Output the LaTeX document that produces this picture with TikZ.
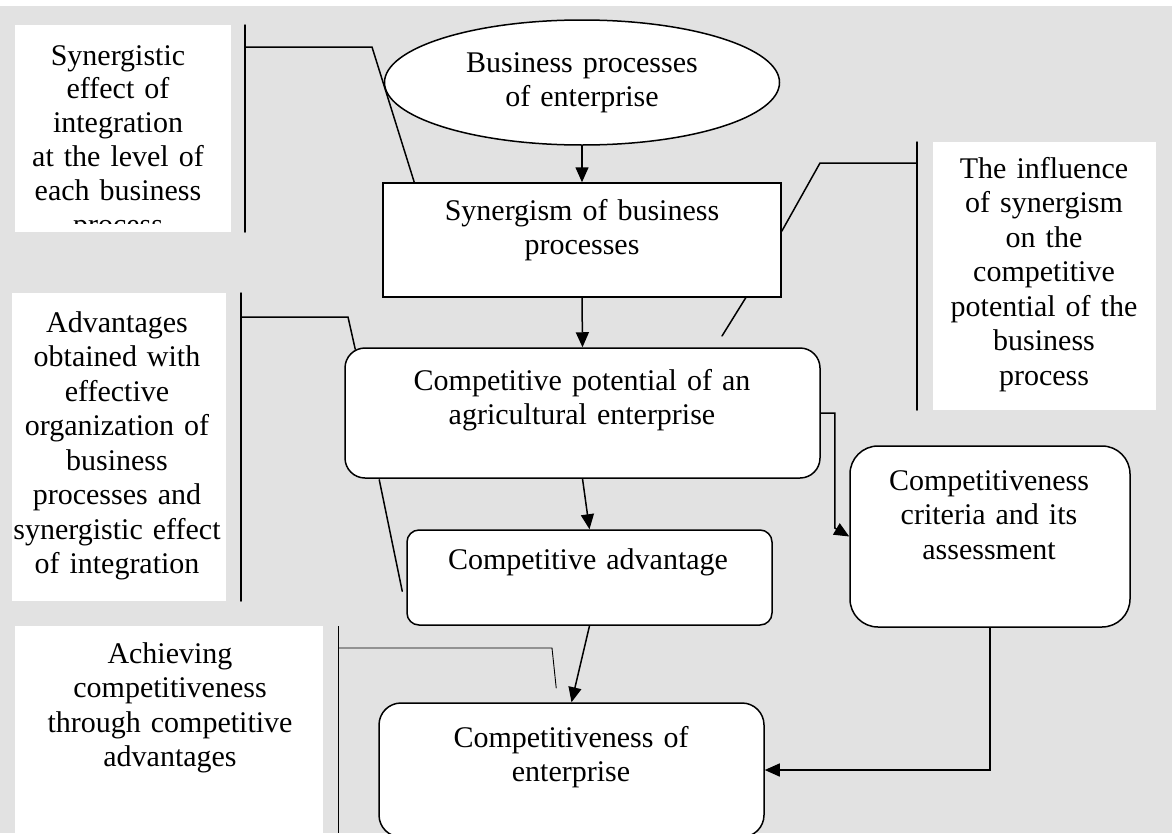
\documentclass[tikz,border=0pt]{standalone}
\usepackage{fontspec}
\setmainfont{Liberation Serif}
\usetikzlibrary{shapes.geometric,arrows.meta,calc}
\definecolor{bggray}{RGB}{226,226,226}
\tikzset{
  ln/.style={line width=1.5pt, line cap=round},
  thinln/.style={line width=0.9pt},
  arr/.style={line width=1.5pt, -{Triangle[length=15pt,width=13pt]}},
  box/.style={draw, line width=1.5pt, fill=white, inner sep=0pt},
  sidebox/.style={fill=white, inner sep=0pt},
  txt/.style={anchor=base, align=center, text width=560pt, inner sep=0pt,
              font=\fontsize{30}{34.5}\selectfont}
}
\begin{document}
\begin{tikzpicture}[x=1pt,y=-1pt]
\useasboundingbox (0,0) rectangle (1172,833);
\fill[bggray] (0,0) rectangle (1172,833);
\fill[white] (0,0) rectangle (1172,6);

% side boxes
\node[sidebox, anchor=north west, minimum width=216pt, minimum height=207pt] (tl) at (15,25) {};
\node[sidebox, anchor=north west, minimum width=223pt, minimum height=268pt] (tr) at (933,142) {};
\node[sidebox, anchor=north west, minimum width=214pt, minimum height=308pt] (ml) at (12,293) {};
\node[sidebox, anchor=north west, minimum width=308pt, minimum height=210pt] (bl) at (15,626) {};

\begin{scope}
\clip (15,25) rectangle (231,223);
\node[txt, font=\fontsize{30}{33.8}\selectfont] (tl-t) at (118,65) {Synergistic\\effect of\\integration\\at the level of\\each business\\process};
\end{scope}
\node[txt] (tr-t) at (1044,178) {The influence\\of synergism\\on the\\competitive\\potential of the\\business\\process};
\node[txt] (ml-t) at (117,332) {Advantages\\obtained with\\effective\\organization of\\business\\processes and\\synergistic effect\\of integration};
\node[txt] (bl-t) at (170,663) {Achieving\\competitiveness\\through competitive\\advantages};

% main shapes
\node[box, ellipse, minimum width=395pt, minimum height=125pt] (ell) at (582,82.5) {};
\node[box, minimum width=398pt, minimum height=114pt] (syn) at (582,240) {};
\node[box, rounded corners=20pt, minimum width=475pt, minimum height=130pt] (pot) at (582.5,413) {};
\node[box, rounded corners=12pt, minimum width=365pt, minimum height=95pt] (adv) at (589.5,577.5) {};
\node[box, rounded corners=22pt, minimum width=385pt, minimum height=134pt] (comp) at (571.5,770) {};
\node[box, rounded corners=28pt, minimum width=280pt, minimum height=181pt] (crit) at (990,536.5) {};

\node[txt] (ell-t) at (582,72) {Business processes\\of enterprise};
\node[txt] (syn-t) at (582,220) {Synergism of business\\processes};
\node[txt] (pot-t) at (582,390) {Competitive potential of an\\agricultural enterprise};
\node[txt] (adv-t) at (588,569) {Competitive advantage};
\node[txt] (comp-t) at (571,747) {Competitiveness of\\enterprise};
\node[txt] (crit-t) at (989,490) {Competitiveness\\criteria and its\\assessment};

% bracket lines
\coordinate (l1a) at (245,25);
\coordinate (l1b) at (245,232);
\coordinate (l1k) at (372,47);
\draw[ln] (l1a) -- (l1b);
\draw[ln] (l1a |- l1k) -- (l1k) -- ($(syn.north west)+(32,0)$);

\coordinate (r1a) at (917,142);
\coordinate (r1b) at (917,410);
\coordinate (r1k) at (820,163);
\coordinate (r1e) at (722,336);
\draw[ln] (r1a) -- (r1b);
\draw[ln] (r1a |- r1k) -- (r1k) -- ($(syn.north east)+(0,49)$);
\draw[ln] ($(syn.south east)+(-36,0)$) -- (r1e);

\coordinate (l2a) at (241,293);
\coordinate (l2b) at (241,601);
\coordinate (l2k) at (348,317);
\draw[ln] (l2a) -- (l2b);
\draw[ln] (l2a |- l2k) -- (l2k) -- ($(pot.north west)+(11,2)$);
\draw[ln] ($(pot.south west)+(35,1)$) -- ($(adv.north west)+(-4,62)$);

\coordinate (l3a) at (338,626);
\coordinate (l3b) at (338,833);
\coordinate (l3k) at (552,648);
\draw[thinln] (l3a) -- (l3b);
\draw[thinln] (l3a |- l3k) -- (l3k) -- ($(comp.north west)+(178,-14)$);

% arrows
\draw[arr] (ell.south) -- (syn.north);
\draw[arr] (syn.south) -- (pot.north);
\draw[arr] (pot.south) -- (adv.north);
\draw[arr] (adv.south) -- (comp.north);
\draw[arr] (pot.east) -- ++(14,0) -- ++(0,115) -- (crit.west);
\draw[arr] (crit.south) |- (comp.east);
\end{tikzpicture}
\end{document}
